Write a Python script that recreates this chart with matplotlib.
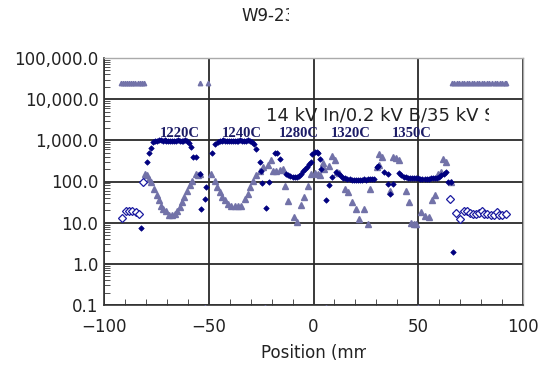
import matplotlib
matplotlib.use("Agg")
import matplotlib.pyplot as plt
from matplotlib.ticker import FuncFormatter, MultipleLocator, LogLocator, NullFormatter
from matplotlib.transforms import Bbox, TransformedBbox

# ---- data ----
# filled navy diamonds
a_x = [-82.4, -79.7, -78.5, -77.8,
       -76.5, -75.6, -74.7, -73.8, -72.9, -72.0, -71.1, -70.2, -69.3, -68.4,
       -67.5, -66.6, -65.7, -64.8, -63.9, -63.0, -62.1, -61.2, -60.3, -59.4,
       -58.4, -57.5, -56.3, -54.3, -53.6, -51.9, -51.1, -48.5, -47.1,
       -45.7, -44.8, -43.9, -43.0, -42.1, -41.2, -40.3, -39.4, -38.5, -37.6,
       -36.7, -35.8, -34.9, -34.0, -33.1, -32.2, -31.3, -30.4, -29.5,
       -28.6, -27.3, -25.7, -24.9, -24.4, -22.5, -21.3, -18.6, -17.6, -16.2,
       -13.0, -12.0, -11.0, -10.0, -9.0, -8.0, -7.0, -6.0, -5.0, -4.0, -3.0,
       -2.0, -1.1, -0.6, 0.5, 1.5, 2.0, 3.2, 3.7, 6.0, 7.6, 8.9, 10.8,
       12.2, 13.2, 14.2, 15.2, 16.2, 17.2, 18.2, 19.2, 20.2, 21.2, 22.2,
       23.2, 24.2, 25.2, 26.2, 27.2, 28.1, 29.0, 30.2, 30.8, 33.8, 35.4,
       35.4, 36.5, 38.1, 41.0, 42.0, 43.0, 44.0, 45.0, 46.0, 47.0, 48.0,
       49.0, 50.0, 51.0, 52.0, 53.0, 54.0, 55.0, 56.0, 57.0, 58.0, 59.0,
       60.0, 61.0, 62.4, 63.1, 64.3, 65.6, 66.8]
a_y = [7.6, 300, 500, 650,
       900, 950, 980, 1000, 1000, 990, 1000, 980, 970, 960,
       970, 980, 990, 1000, 990, 980, 990, 1000, 950, 880,
       690, 400, 400, 155, 22, 37, 72, 480, 830,
       930, 960, 980, 1000, 990, 980, 970, 960, 960, 970,
       980, 990, 1000, 990, 980, 990, 1000, 970, 930,
       830, 600, 300, 185, 92, 23, 100, 500, 480, 355,
       155, 145, 135, 130, 128, 130, 135, 150, 175, 200, 220,
       260, 300, 460, 510, 520, 490, 355, 200, 36, 80, 130, 170,
       150, 135, 125, 120, 115, 112, 110, 110, 110, 108, 110,
       110, 112, 110, 112, 115, 118, 118, 225, 235, 170, 150,
       87, 50, 87, 160, 140, 130, 128, 125, 125, 122, 120,
       122, 120, 118, 118, 115, 115, 118, 120, 122, 120, 125,
       128, 140, 155, 170, 100, 95, 1.9]

# grey-blue triangles
b_x = [-80.6, -79.7, -78.5, -77.7, -76.2, -74.9, -73.8, -73.0, -71.7, -70.6,
       -69.0, -67.5, -66.3, -65.1, -63.8, -62.7, -61.6, -60.3, -59.0, -57.9,
       -56.3, -55.2, -54.0, -48.7, -47.1, -46.0, -44.8, -43.5, -42.4, -40.8,
       -39.3, -37.7, -36.0, -34.4, -32.9, -31.3, -30.2, -28.9, -27.3, -25.7,
       -24.1, -21.8, -20.2, -19.4, -17.8, -16.2, -14.6, -13.8, -12.2, -9.3,
       -7.9, -6.1, -4.3, -2.7, -1.1, 0.5, 2.1, 2.9, 4.3, 5.0, 7.6, 8.9, 10.5,
       11.1, 12.4, 14.8, 16.3, 18.4, 20.3, 21.6, 24.3, 25.9, 27.0, 30.5, 31.1,
       31.4, 32.7, 36.5, 37.8, 39.2, 40.6, 44.1, 45.7, 46.5, 48.1, 48.9, 51.2,
       53.2, 55.0, 56.8, 58.1, 59.5, 60.8, 61.6, 63.2, 65.6,
       -52.0, -23.0, 6.0, 50.0]
b_y = [150, 145, 118, 100, 66, 48, 35, 26, 21.5, 19,
       15.5, 15, 16, 19.5, 24.5, 32, 43, 60, 80, 105,
       150, 145, 150, 155, 105, 72, 55, 42, 35, 29,
       26, 25, 25, 26, 38, 50, 72, 105, 140, 178,
       225, 255, 325, 180, 185, 190, 200, 76, 34, 14,
       10.5, 27, 43, 78, 150, 165, 150, 140, 275, 200, 235, 425, 325,
       170, 160, 66, 55, 32, 21, 12, 21, 9.4, 66, 225, 245,
       460, 390, 60, 390, 370, 340, 60, 32, 10, 9.5, 9.5, 18,
       14.5, 14, 35, 46, 155, 170, 355, 300, 95,
       0.085, 0.085, 0.085, 0.085]

# open diamonds at the edges
c_x = [-91.6, -89.7, -88.1, -86.5, -84.9, -83.3, -81.3,
       65.0, 68.0, 70.0, 71.9, 73.5, 74.6, 75.9, 77.5, 79.0, 80.6, 81.4,
       83.0, 84.6, 86.2, 87.8, 88.6, 90.2, 91.8]
c_y = [13, 19, 19.5, 19, 18, 16, 95,
       38, 17, 12.6, 19, 19, 17.5, 16, 16.5, 17, 19.5, 16.5,
       16, 15, 15, 18, 15, 15, 16]

# small triangles near 25,000
d_x = [-92, -91, -90, -89, -88, -87, -86, -85, -84, -83, -82, -81,
       -54, -50.5,
       66, 67.2, 68.4, 69.6, 70.8, 72, 73.2, 74.4, 75.6, 76.8, 78, 79.2,
       80.4, 81.6, 82.8, 84, 85.2, 86.4, 87.6, 88.8, 90, 91.2, 92]
d_y = [25000] * 12 + [25000, 25000] + [25000] * 23

temp_labels = ["1220C", "1240C", "1280C", "1320C", "1350C"]
temp_x = [-63.8, -34.0, -7.1, 17.6, 46.7]

x_ticks = [-100, -50, 0, 50, 100]
y_ticks = [0.1, 1, 10, 100, 1000, 10000, 100000]

# ---- figure ----
fig = plt.figure(figsize=(5.46, 3.66), dpi=100)
ax = fig.add_axes([104 / 546, 1 - 305 / 366, (523 - 104) / 546, (305 - 58) / 366])
ax.set_yscale("log")
ax.set_xlim(-100, 100)
ax.set_ylim(0.1, 100000)

navy = "#00007f"
slate = "#7272a8"

ax.plot(b_x, b_y, linestyle="none", marker="^", ms=5, color=slate, mec=slate, zorder=3)
ax.plot(d_x, d_y, linestyle="none", marker="^", ms=3.2, color=slate, mec=slate, zorder=3)
ax.plot(a_x, a_y, linestyle="none", marker="D", ms=2.8, color=navy, mec=navy, mew=0.5,
        zorder=4)
ax.plot(c_x, c_y, linestyle="none", marker="D", ms=3.6, mfc="white", mec="#1a1aa0",
        mew=0.9, zorder=4)

ax.set_xticks(x_ticks)
ax.set_yticks(y_ticks)
ax.yaxis.set_major_formatter(FuncFormatter(lambda v, p: f"{v:,.1f}"))
ax.xaxis.set_minor_locator(MultipleLocator(10))
ax.yaxis.set_minor_locator(LogLocator(base=10, subs=range(2, 10), numticks=20))
ax.yaxis.set_minor_formatter(NullFormatter())
ax.tick_params(which="major", length=0, labelsize=12, colors="#222222")
ax.tick_params(axis="y", which="major", pad=4)
ax.tick_params(axis="x", which="major", pad=9)
ax.tick_params(which="minor", direction="in", length=4, color="#333333")
ax.grid(True, which="major", color="#2a2a2a", linewidth=1.3)
for s in ["left", "bottom"]:
    ax.spines[s].set_color("#333333")
    ax.spines[s].set_linewidth(1.2)
for s in ["top", "right"]:
    ax.spines[s].set_color("#aaaaaa")
    ax.spines[s].set_linewidth(1.0)
ax.set_axisbelow(True)

for t, x in zip(temp_labels, temp_x):
    ax.text(x, 1480, t, ha="center", va="center", fontsize=10.5, fontweight="bold",
            family="Liberation Serif", color="#1c1c66", zorder=5)

clip = TransformedBbox(Bbox([[-100, 0.1], [83.8, 100000]]), ax.transData)
note = ax.text(-22.5, 4070, "14 kV In/0.2 kV B/35 kV S", ha="left", va="center",
               fontsize=13, color="#222222", zorder=5)
note.set_clip_box(clip)
note.set_clip_on(True)

t1 = fig.text(241 / 546, 1 - 16 / 366, "W9-23", ha="left", va="center", fontsize=12,
              color="#222222")
t1.set_clip_box(Bbox([[0, 0], [289, 366]]))
t1.set_clip_on(True)

xl = fig.text(261 / 546, 1 - 353 / 366, "Position (mm)", ha="left", va="center",
              fontsize=12, color="#222222")
xl.set_clip_box(Bbox([[0, 0], [366, 366]]))
xl.set_clip_on(True)

fig.savefig("out.png", dpi=100)
